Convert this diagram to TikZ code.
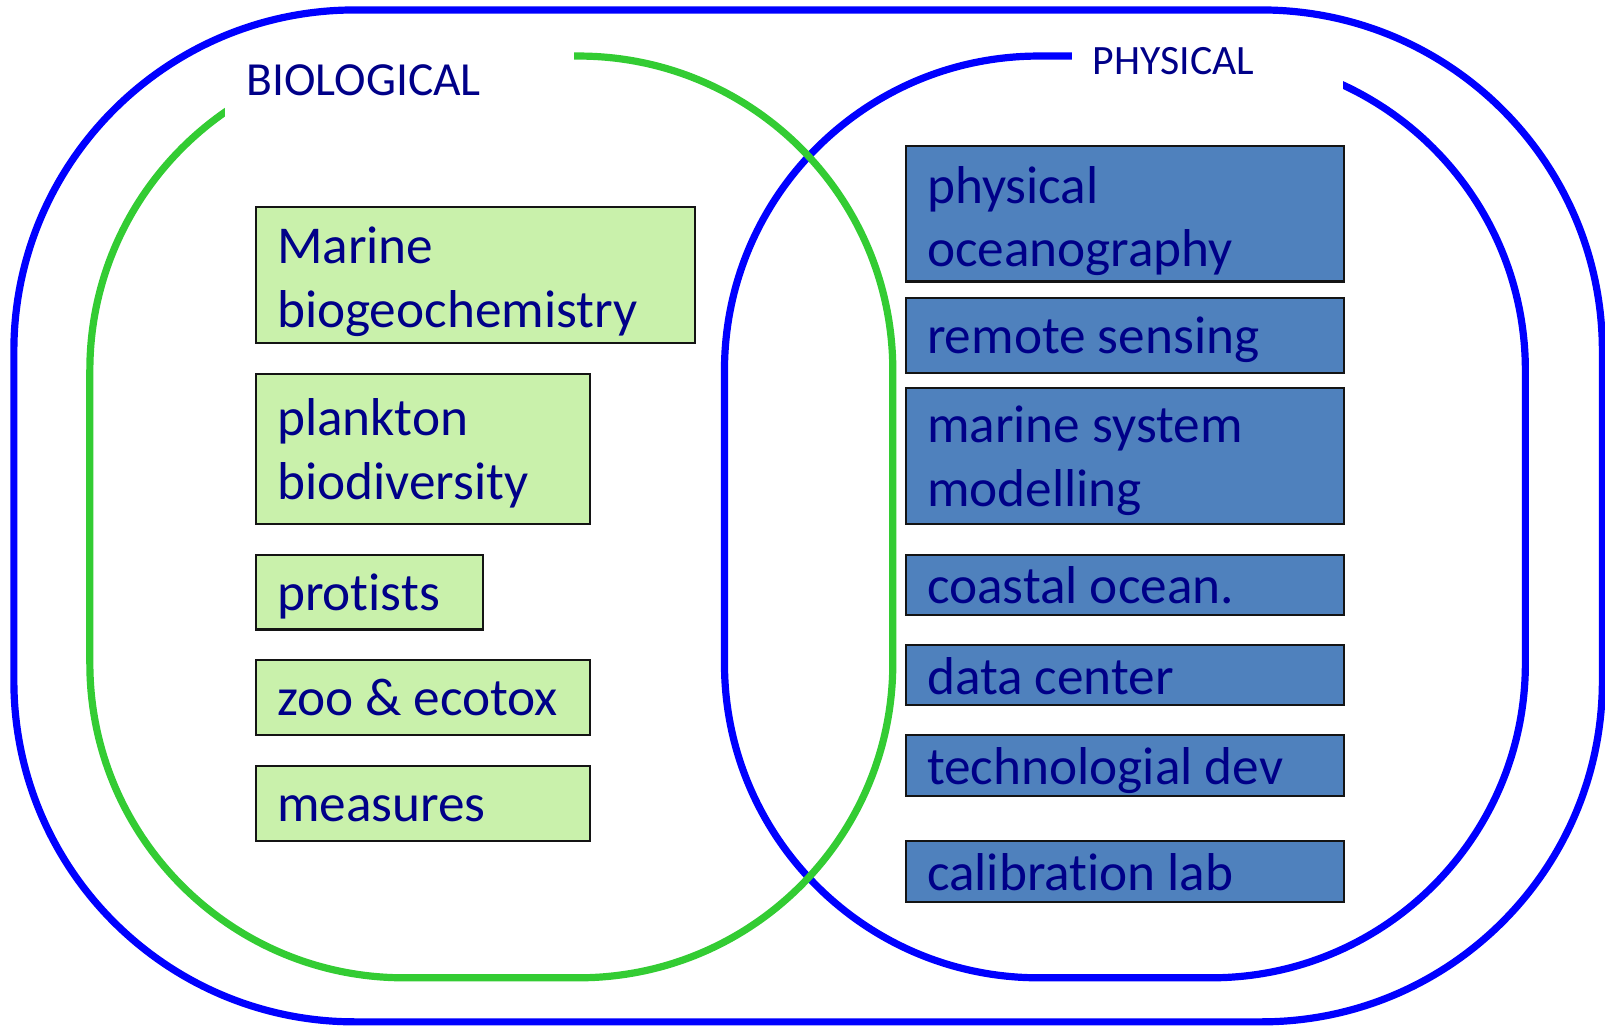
\documentclass[tikz,border=0pt]{standalone}
\usepackage{fontspec}
\setmainfont{Carlito}[Ligatures=NoCommon]
\usetikzlibrary{fit}
\definecolor{lineblue}{RGB}{0,0,255}
\definecolor{linegreen}{RGB}{51,204,51}
\definecolor{gfill}{RGB}{201,241,171}
\definecolor{bfill}{RGB}{79,129,189}
\definecolor{txt}{RGB}{0,0,136}
\definecolor{boxline}{RGB}{20,20,20}
\begin{document}
\begin{tikzpicture}[x=0.01cm,y=-0.01cm,
  region/.style={draw=#1, line width=2pt, shape=rectangle, inner sep=0pt},
  gbox/.style={draw=boxline, fill=gfill, line width=0.6pt, inner sep=0pt},
  bbox/.style={draw=boxline, fill=bfill, line width=0.6pt, inner sep=0pt},
  lab/.style={text=txt, font=\fontsize{14.8pt}{17.65pt}\selectfont, inner sep=0pt, align=left},
  cover/.style={fill=white, draw=none, inner sep=0pt},
  title/.style={text=txt, inner sep=0pt}]
\useasboundingbox (0,0) rectangle (1568,1002);
% big regions
\node[region=lineblue, rounded corners=3.07cm, minimum width=7.82cm, minimum height=9cm] (phys) at (1099,505) {};
\node[region=linegreen, rounded corners=3.07cm, minimum width=7.84cm, minimum height=9cm] (bio) at (480,505) {};
\node[cover, fit={(220,43) (561,122)}] (biocover) {};
\node[cover, fit={(1047,36) (1312,97)}] (physcover) {};
\node[region=lineblue, rounded corners=3.33cm, minimum width=15.51cm, minimum height=9.88cm] (outer) at (789.5,504) {};
% titles
\node[title, font=\fontsize{13.2pt}{15pt}\selectfont, anchor=base west] (biotitle) at (240,93) {BIOLOGICAL};
\node[title, font=\fontsize{11.6pt}{14pt}\selectfont, anchor=base west] (phystitle) at (1067,73) {PHYSICAL};
% green boxes
\node[gbox, fit={(250,202) (679,335)}] (g1) {};
\node[gbox, fit={(250,365) (576,512)}] (g2) {};
\node[gbox, fit={(250,542) (472,615)}] (g3) {};
\node[gbox, fit={(250,645) (576,718)}] (g4) {};
\node[gbox, fit={(250,748) (576,822)}] (g5) {};
\node[lab, anchor=north west] (tg1) at (270,213.6) {\strut Marine\\biogeochemistry};
\node[lab, anchor=north west] (tg2) at (270,381.6) {\strut plankton\\biodiversity};
\node[lab, anchor=base west] (tg3) at (270,596) {protists};
\node[lab, anchor=base west] (tg4) at (270,699) {zoo \& ecotox};
\node[lab, anchor=base west] (tg5) at (270,803) {measures};
% blue boxes
\node[bbox, fit={(885,143) (1313,275)}] (b1) {};
\node[bbox, fit={(885,291) (1313,364)}] (b2) {};
\node[bbox, fit={(885,379) (1313,512)}] (b3) {};
\node[bbox, fit={(885,542) (1313,601)}] (b4) {};
\node[bbox, fit={(885,630) (1313,689)}] (b5) {};
\node[bbox, fit={(885,718) (1313,778)}] (b6) {};
\node[bbox, fit={(885,822) (1313,881)}] (b7) {};
\node[lab, anchor=north west] (tb1) at (905,154.6) {\strut physical\\oceanography};
\node[lab, anchor=base west] (tb2) at (905,345) {remote sensing};
\node[lab, anchor=north west] (tb3) at (905,388.6) {\strut marine system\\modelling};
\node[lab, anchor=base west] (tb4) at (905,590) {coastal ocean.};
\node[lab, anchor=base west] (tb5) at (905,678) {data center};
\node[lab, anchor=base west] (tb6) at (905,766) {technologial dev};
\node[lab, anchor=base west] (tb7) at (905,870) {calibration lab};
\end{tikzpicture}
\end{document}
